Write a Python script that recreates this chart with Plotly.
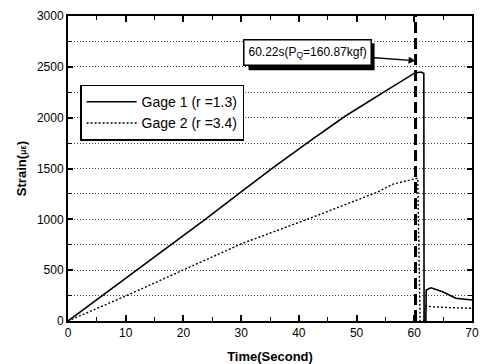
import plotly.graph_objects as go

# ---- data ----
series_names = ["Gage 1 (r =1.3)", "Gage 2 (r =3.4)"]

time_g1 = [0, 6, 12, 18, 23.6, 29.6, 35.6, 41.7, 48, 55.2, 60.1, 61.2, 61.65, 61.7, 62.0, 62.07, 62.9, 64.9, 67.2, 70]
strain_g1 = [0, 250, 500, 750, 992, 1254, 1510, 1761, 2014, 2269, 2440, 2449, 2435, 0, 0, 305, 327, 288, 223, 206]

time_g2 = [0, 10.1, 19.9, 30.2, 41.4, 53.7, 56.3, 60.1, 60.6, 61.0, 61.6, 61.85, 63.0, 66.0, 70]
strain_g2 = [0, 249, 500, 763, 999, 1270, 1346, 1400, 1405, 0, 0, 150, 140, 132, 125]

peak_time = 60.22
peak_label = "60.22s(P<sub>Q</sub>=160.87kgf)"
arrow_strain = 2560
y_range = [0, 3000]
x_range = [0, 70]

FONT = "Liberation Sans, Arial, sans-serif"
GRID = dict(gridcolor="#444444", griddash="1px,2px", gridwidth=1)

fig = go.Figure()
fig.add_trace(go.Scatter(x=time_g1, y=strain_g1, mode="lines", name=series_names[0],
                         line=dict(color="black", width=1.6)))
fig.add_trace(go.Scatter(x=time_g2, y=strain_g2, mode="lines", name=series_names[1],
                         line=dict(color="black", width=1.4, dash="2px,2px")))
fig.add_trace(go.Scatter(x=[peak_time, peak_time], y=y_range, mode="lines", showlegend=False,
                         line=dict(color="black", width=3, dash="11px,5px")))

axis_common = dict(
    showline=True, linecolor="black", linewidth=2, mirror="ticks",
    ticks="inside", tickcolor="black", tickwidth=1.5,
    tickfont=dict(family=FONT, size=12, color="black"),
    zeroline=False,
)

fig.update_xaxes(range=x_range, dtick=10, ticklen=6, showgrid=False, automargin=False,
                 minor=dict(dtick=5, ticks="inside", ticklen=4, tickcolor="black", tickwidth=1.2, showgrid=False),
                 title=dict(text="<b>Time(Second)</b>", font=dict(family=FONT, size=13, color="black")),
                 **axis_common)
fig.update_yaxes(range=y_range, dtick=500, ticklen=5, showgrid=True, automargin=True, **GRID,
                 minor=dict(dtick=250, ticks="inside", ticklen=4, tickcolor="black", tickwidth=1.2,
                            showgrid=True, **GRID),
                 title=dict(text="<b>Strain(<span style='font-size:9px'>με</span>)</b>",
                            font=dict(family=FONT, size=13, color="black"), standoff=7),
                 **axis_common)

# annotation with a drop shadow (shadow drawn as a pixel-sized shape anchored at the arrow tip)
ann_ax, ann_ay = -108, -8
box_w, box_h, shadow = 126, 27, 4
fig.add_shape(type="rect", xref="x", yref="y", xsizemode="pixel", ysizemode="pixel",
              xanchor=peak_time, yanchor=arrow_strain,
              x0=ann_ax - box_w / 2 + shadow, x1=ann_ax + box_w / 2 + shadow,
              y0=-(ann_ay + box_h / 2 + shadow), y1=-(ann_ay - box_h / 2 + shadow),
              fillcolor="black", line=dict(color="black", width=0), layer="above")
fig.add_annotation(x=peak_time, y=arrow_strain, text=peak_label, showarrow=True,
                   arrowhead=2, arrowsize=1, arrowwidth=1.4, arrowcolor="black",
                   ax=ann_ax, ay=ann_ay,
                   font=dict(family=FONT, size=12, color="black"),
                   bgcolor="white", bordercolor="black", borderwidth=1.5, borderpad=4)

fig.update_layout(
    width=483, height=364,
    margin=dict(l=68, r=9, t=15, b=43),
    paper_bgcolor="white", plot_bgcolor="white",
    font=dict(family=FONT, size=12, color="black"),
    legend=dict(x=0.03, y=0.775, xanchor="left", yanchor="top",
                bgcolor="white", bordercolor="black", borderwidth=1.5,
                font=dict(family=FONT, size=14, color="black"),
                itemwidth=50, entrywidth=224, entrywidthmode="pixels", tracegroupgap=0),
)

fig.write_html("out.html")
